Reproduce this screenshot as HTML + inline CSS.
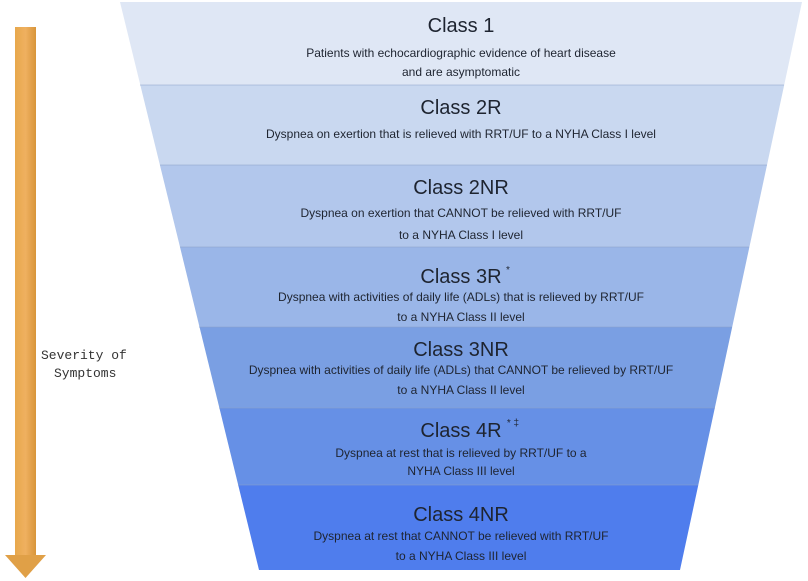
<!DOCTYPE html>
<html><head><meta charset="utf-8"><style>
html,body{margin:0;padding:0;background:#fff;}
svg{display:block;}
text{font-family:"Liberation Sans",sans-serif;fill:#1e2430;text-anchor:middle;}
.t{font-size:20px;}
.b{font-size:12px;}
.m{font-family:"Liberation Mono",monospace;font-size:13px;text-anchor:start;fill:#333;}
</style></head><body>
<svg width="808" height="581" viewBox="0 0 808 581">
<defs>
<linearGradient id="ar" x1="0" x2="1"><stop offset="0" stop-color="#e7a84c"/><stop offset="0.5" stop-color="#efb060"/><stop offset="1" stop-color="#d8953a"/></linearGradient>
</defs>
<rect x="15" y="27" width="21" height="530" fill="url(#ar)"/>
<polygon points="5,555 46,555 25.5,578" fill="#e0a047"/>
<text class="m" x="41" y="359">Severity of</text>
<text class="m" x="54" y="377">Symptoms</text>

<polygon points="120,2 802,2 784.2,85 140.3,85" fill="#dfe7f5"/>
<polygon points="140.3,85 784.2,85 767,165 159.9,165" fill="#c9d8f0"/>
<polygon points="159.9,165 767,165 749.4,247 180,247" fill="#b2c7ec"/>
<polygon points="180,247 749.4,247 732.2,327 199.5,327" fill="#9ab6e8"/>
<polygon points="199.5,327 732.2,327 714.8,408 219.4,408" fill="#7a9fe3"/>
<polygon points="219.4,408 714.8,408 698.3,485 238.2,485" fill="#6690e6"/>
<polygon points="238.2,485 698.3,485 680,570 259,570" fill="#4f7ded"/>
<g stroke="#8aa0c8" stroke-width="1" opacity="0.5">
<line x1="140" y1="85" x2="784" y2="85"/><line x1="160" y1="165" x2="767" y2="165"/>
<line x1="180" y1="247" x2="749" y2="247"/><line x1="199" y1="327" x2="732" y2="327"/>
<line x1="219" y1="408" x2="715" y2="408"/><line x1="238" y1="485" x2="698" y2="485"/>
</g>

<text class="t" x="461" y="32">Class 1</text>
<text class="b" x="461" y="57">Patients with echocardiographic evidence of heart disease</text>
<text class="b" x="461" y="76">and are asymptomatic</text>

<text class="t" x="461" y="114">Class 2R</text>
<text class="b" x="461" y="138">Dyspnea on exertion that is relieved with RRT/UF to a NYHA Class I level</text>

<text class="t" x="461" y="194">Class 2NR</text>
<text class="b" x="461" y="217">Dyspnea on exertion that CANNOT be relieved with RRT/UF</text>
<text class="b" x="461" y="239">to a NYHA Class I level</text>

<text class="t" x="461" y="283">Class 3R</text>
<text class="b" x="508" y="273" style="font-size:10px">*</text>
<text class="b" x="461" y="301">Dyspnea with activities of daily life (ADLs) that is relieved by RRT/UF</text>
<text class="b" x="461" y="321">to a NYHA Class II level</text>

<text class="t" x="461" y="356">Class 3NR</text>
<text class="b" x="461" y="374">Dyspnea with activities of daily life (ADLs) that CANNOT be relieved by RRT/UF</text>
<text class="b" x="461" y="394">to a NYHA Class II level</text>

<text class="t" x="461" y="437">Class 4R</text>
<text class="b" x="513" y="426" style="font-size:10px">* ‡</text>
<text class="b" x="461" y="457">Dyspnea at rest that is relieved by RRT/UF to a</text>
<text class="b" x="461" y="475">NYHA Class III level</text>

<text class="t" x="461" y="521">Class 4NR</text>
<text class="b" x="461" y="540">Dyspnea at rest that CANNOT be relieved with RRT/UF</text>
<text class="b" x="461" y="560">to a NYHA Class III level</text>
</svg>
</body></html>
